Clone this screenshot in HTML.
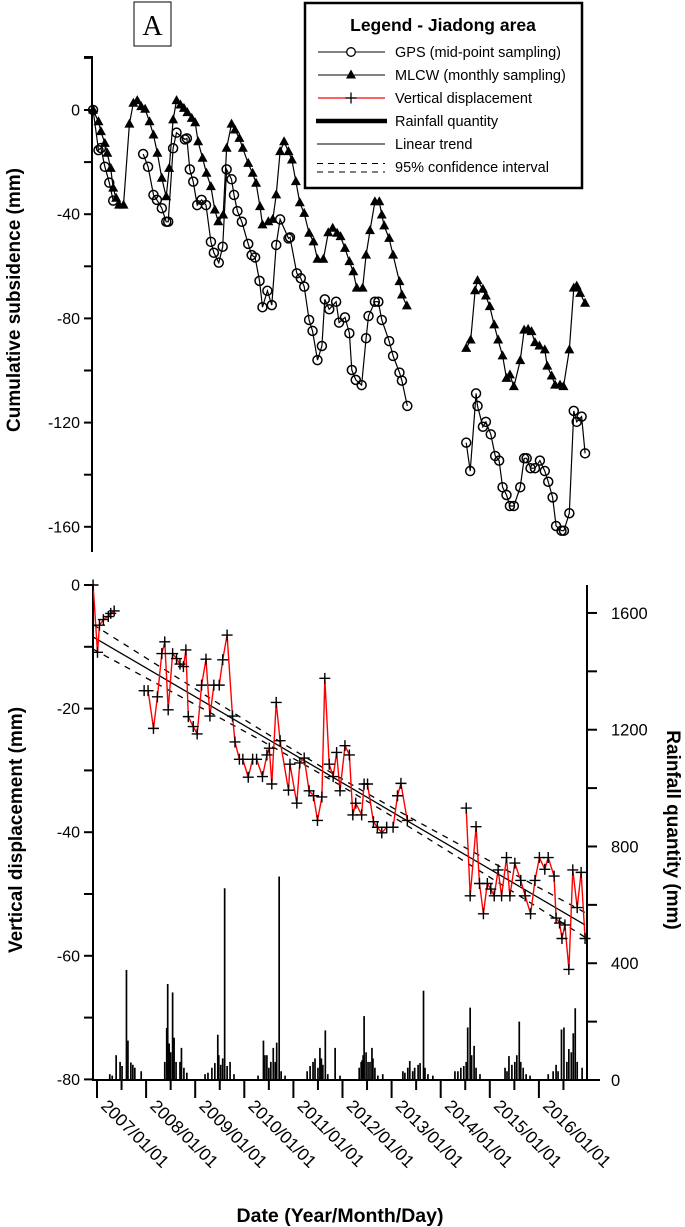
<!DOCTYPE html>
<html><head><meta charset="utf-8"><style>
html,body{margin:0;padding:0;background:#fff;}
svg{display:block;font-family:"Liberation Sans",sans-serif;}
</style></head><body>
<svg id="chart" width="685" height="1227" viewBox="0 0 685 1227" xmlns="http://www.w3.org/2000/svg">
<g>
<rect x="134" y="2" width="37" height="44" fill="none" stroke="#000" stroke-width="1"/>
<text x="152.5" y="35" font-family="Liberation Serif, serif" font-size="28" text-anchor="middle">A</text>
</g>
<g id="topChart"></g>
<g id="bottomChart"></g>
<g>
<rect x="305" y="3" width="277" height="185" fill="#fff" stroke="#000" stroke-width="2.5"/>
<text x="443" y="31" font-size="17.5" font-weight="bold" text-anchor="middle">Legend - Jiadong area</text>
<g><line x1="318" y1="52" x2="385" y2="52" stroke="#000" stroke-width="1"/><circle cx="351" cy="52" r="4.3" fill="#fff" stroke="#000" stroke-width="1.3"/><text x="395" y="57" font-size="14.5">GPS (mid-point sampling)</text></g>
<g><line x1="318" y1="75" x2="385" y2="75" stroke="#000" stroke-width="1"/><polygon points="351,69.5 356,78.5 346,78.5" fill="#000"/><text x="395" y="80" font-size="14.5">MLCW (monthly sampling)</text></g>
<g><line x1="318" y1="98" x2="385" y2="98" stroke="#f00" stroke-width="1.3"/><path d="M345.5 98H356.5M351 92.5V103.5" stroke="#000" stroke-width="1.3"/><text x="395" y="103" font-size="14.5">Vertical displacement</text></g>
<g><line x1="316" y1="121" x2="387" y2="121" stroke="#000" stroke-width="4.5"/><text x="395" y="126" font-size="14.5">Rainfall quantity</text></g>
<g><line x1="317" y1="144" x2="385" y2="144" stroke="#000" stroke-width="1"/><text x="395" y="149" font-size="14.5">Linear trend</text></g>
<g><line x1="317" y1="163.5" x2="385" y2="163.5" stroke="#000" stroke-width="1" stroke-dasharray="6,5"/><line x1="317" y1="172" x2="385" y2="172" stroke="#000" stroke-width="1" stroke-dasharray="6,5"/><text x="395" y="172" font-size="14.5">95% confidence interval</text></g>
</g>
</svg>
<script>
const gpsDates=[2006.92,2007.03,2007.08,2007.16,2007.25,2007.33,2007.94,2008.04,2008.15,2008.22,2008.32,2008.41,2008.45,2008.55,2008.62,2008.79,2008.83,2008.89,2008.96,2009.04,2009.13,2009.22,2009.32,2009.38,2009.48,2009.56,2009.64,2009.74,2009.79,2009.86,2009.95,2010.08,2010.15,2010.22,2010.31,2010.37,2010.47,2010.56,2010.65,2010.73,2010.90,2010.93,2011.07,2011.15,2011.22,2011.32,2011.39,2011.49,2011.58,2011.64,2011.73,2011.87,2011.93,2012.05,2012.14,2012.19,2012.27,2012.39,2012.48,2012.53,2012.66,2012.73,2012.80,2012.95,2013.03,2013.16,2013.21,2013.32,2014.52,2014.60,2014.72,2014.75,2014.86,2014.92,2015.02,2015.11,2015.19,2015.26,2015.34,2015.41,2015.49,2015.62,2015.70,2015.75,2015.83,2015.92,2016.02,2016.12,2016.19,2016.28,2016.35,2016.46,2016.51,2016.62,2016.71,2016.77,2016.87,2016.94];
const gpsValues=[0,-15.4,-14.6,-21.8,-27.9,-34.8,-16.9,-21.8,-32.6,-34.5,-37.7,-42.9,-42.9,-14.7,-8.7,-11.3,-10.9,-22.8,-27.5,-36.5,-34.5,-36.5,-50.6,-54.8,-58.6,-52.5,-22.8,-26.6,-32.6,-38.8,-42.9,-51.4,-55.7,-56.6,-65.6,-75.7,-69.4,-74.9,-51.8,-42,-49.3,-48.9,-62.7,-64.6,-67.8,-80.6,-84.8,-96,-90.6,-72.7,-76.5,-73.6,-81.6,-79.6,-85.7,-99.8,-103.6,-105.6,-87.6,-79.1,-73.6,-73.6,-80.6,-88.7,-94.4,-100.8,-103.9,-113.6,-127.7,-138.6,-108.8,-113.6,-121.6,-119.7,-124.5,-132.8,-134.6,-144.8,-147.8,-152,-152,-144.8,-133.7,-133.7,-137.5,-137.5,-134.6,-138.6,-142.7,-148.7,-159.7,-161.5,-161.5,-154.8,-115.5,-119.7,-117.7,-131.8];
const mlcwDates=[2006.92,2007.03,2007.08,2007.16,2007.21,2007.28,2007.33,2007.39,2007.45,2007.54,2007.66,2007.74,2007.82,2007.90,2007.98,2008.07,2008.15,2008.23,2008.32,2008.41,2008.47,2008.55,2008.62,2008.70,2008.77,2008.84,2008.93,2009.00,2009.06,2009.15,2009.23,2009.32,2009.40,2009.47,2009.57,2009.64,2009.74,2009.81,2009.90,2009.97,2010.08,2010.17,2010.24,2010.32,2010.37,2010.49,2010.58,2010.65,2010.73,2010.81,2010.90,2010.97,2011.05,2011.13,2011.22,2011.32,2011.41,2011.49,2011.61,2011.71,2011.80,2011.89,2011.96,2012.05,2012.14,2012.22,2012.29,2012.41,2012.48,2012.56,2012.66,2012.75,2012.80,2012.85,2012.95,2013.03,2013.16,2013.21,2013.31,2014.52,2014.61,2014.70,2014.75,2014.86,2014.92,2015.00,2015.09,2015.17,2015.26,2015.34,2015.41,2015.49,2015.62,2015.70,2015.78,2015.85,2015.92,2016.01,2016.12,2016.17,2016.26,2016.33,2016.43,2016.50,2016.62,2016.71,2016.77,2016.84,2016.94];
const mlcwValues=[0,-4.5,-8.3,-12.8,-16.6,-22.4,-30,-33.9,-36.5,-36.5,-5.4,2.6,3.6,1.3,0.3,-4.5,-9.6,-16.6,-26.2,-33.3,-22.4,-3.8,3.6,1.9,0.6,-1,-3.2,-4.9,-12.2,-18.5,-24.3,-29.4,-38.4,-42.9,-40.3,-14.7,-5.4,-7.7,-10.9,-14.7,-20.5,-24.3,-28.1,-37.1,-44.1,-42.9,-42,-32.6,-16,-12.2,-16,-19.2,-27.5,-35.6,-39.7,-47.3,-50.6,-57.3,-57.3,-47.1,-45.4,-47.3,-48.6,-53.1,-58.2,-62.1,-68.4,-68.4,-55.7,-46.3,-35.2,-35.2,-40.3,-44.5,-49.3,-55.7,-65.9,-71,-75.2,-91.5,-88.3,-69.4,-65.5,-68.8,-71.4,-75.5,-82.5,-88.3,-94.4,-103,-101.7,-106.2,-96.2,-84.5,-84.2,-85.1,-89.3,-90.6,-92.1,-98.3,-102.1,-105.6,-105.6,-106.2,-92.1,-68.4,-67.6,-70.4,-74.2];
const vdDates=[2006.92,2007.01,2007.05,2007.13,2007.23,2007.28,2007.35,2007.96,2008.04,2008.15,2008.23,2008.32,2008.38,2008.45,2008.54,2008.62,2008.69,2008.76,2008.81,2008.86,2008.96,2009.04,2009.13,2009.22,2009.30,2009.38,2009.49,2009.56,2009.65,2009.76,2009.81,2009.90,2009.97,2010.08,2010.17,2010.25,2010.37,2010.46,2010.51,2010.56,2010.65,2010.73,2010.90,2010.93,2011.07,2011.13,2011.22,2011.32,2011.41,2011.49,2011.58,2011.64,2011.73,2011.81,2011.88,2011.95,2012.05,2012.14,2012.21,2012.27,2012.39,2012.44,2012.51,2012.63,2012.71,2012.80,2012.90,2013.03,2013.12,2013.19,2013.32,2014.52,2014.60,2014.72,2014.79,2014.87,2014.95,2015.02,2015.09,2015.17,2015.24,2015.34,2015.41,2015.51,2015.63,2015.72,2015.83,2015.92,2016.01,2016.12,2016.19,2016.31,2016.35,2016.42,2016.47,2016.53,2016.61,2016.69,2016.78,2016.86,2016.94];
const vdValues=[0,-10.9,-6.5,-5.6,-5.1,-4.6,-4.2,-17.1,-17.1,-23.2,-18.1,-11.1,-9.2,-20.2,-11.1,-11.9,-12.8,-13.2,-10.5,-21.3,-22.9,-24.1,-16.2,-12,-21.2,-16.2,-16.2,-12.1,-8.1,-21.2,-25.4,-28.2,-28.2,-31.1,-28.2,-28.2,-31,-27.5,-26.4,-32.2,-19,-25.2,-33.2,-29,-35.3,-28.8,-28,-33.3,-34.1,-38.1,-34.3,-15.1,-29,-31,-27.1,-33.3,-26,-27.5,-37.2,-35.3,-37.2,-32.2,-32.2,-38.3,-39.2,-40.1,-39.2,-39.2,-34.1,-32.1,-38.1,-36.1,-50.3,-39.1,-48.3,-53.2,-48.3,-49.2,-50.3,-46.1,-50.3,-44.1,-50.3,-45,-47.8,-50.3,-53.2,-47.8,-44.1,-46,-44.1,-47.1,-53.9,-54.7,-57.2,-55,-62.2,-46.1,-52.2,-46.5,-57.2];
const trendDates=[2006.92,2016.94];
const trendValues=[-8.4,-55];
const ciHalfWidth=[0.6,0.38];
const rainDates=[2007.26,2007.31,2007.39,2007.47,2007.51,2007.60,2007.63,2007.69,2007.73,2007.77,2007.90,
2008.38,2008.42,2008.44,2008.47,2008.50,2008.54,2008.57,2008.61,2008.69,2008.72,2008.77,2008.83,
2009.20,2009.26,2009.34,2009.40,2009.46,2009.48,2009.52,2009.56,2009.60,2009.65,2009.71,2009.79,
2010.28,2010.39,2010.42,2010.46,2010.50,2010.54,2010.59,2010.63,2010.66,2010.71,2010.75,2010.83,
2011.28,2011.34,2011.40,2011.44,2011.50,2011.54,2011.57,2011.60,2011.65,2011.70,2011.85,2011.95,
2012.34,2012.38,2012.40,2012.42,2012.44,2012.48,2012.52,2012.56,2012.60,2012.62,2012.66,2012.72,2012.82,
2013.23,2013.27,2013.33,2013.37,2013.43,2013.47,2013.54,2013.58,2013.65,2013.68,2013.74,2013.84,
2014.29,2014.35,2014.41,2014.47,2014.52,2014.55,2014.60,2014.63,2014.68,2014.72,2014.80,
2015.31,2015.35,2015.39,2015.45,2015.51,2015.55,2015.60,2015.63,2015.68,2015.74,2015.82,
2016.19,2016.29,2016.35,2016.39,2016.46,2016.51,2016.57,2016.61,2016.66,2016.70,2016.74,2016.78,2016.88];
const rainValues=[20,15,85,62,48,377,135,60,52,42,30,
62,178,329,125,95,300,145,62,62,110,42,25,
20,25,42,58,155,85,52,74,657,48,62,20,
15,135,85,85,42,62,110,62,128,697,30,15,
30,48,62,74,42,110,74,52,170,20,110,15,
42,62,68,85,219,95,62,62,110,74,42,15,20,
30,25,42,65,30,42,52,58,306,42,20,15,
30,30,42,48,62,180,248,85,117,42,20,
42,30,82,52,62,85,200,62,42,20,15,
20,30,52,30,173,180,62,106,95,160,246,62,42];
const yearTicks=[2007,2008,2009,2010,2011,2012,2013,2014,2015,2016];
const topTicks=[0,-40,-80,-120,-160];
const leftTicks=[0,-20,-40,-60,-80];
const rightTicks=[0,400,800,1200,1600];

const NS="http://www.w3.org/2000/svg";
const xS=t=>97+(t-2007)*49.1;
const yT=v=>110-v*2.605;
const yB=v=>585-v*6.18;
const yR=r=>1080-r*0.2919;
function mk(tag,attrs,parent){const e=document.createElementNS(NS,tag);for(const k in attrs)e.setAttribute(k,attrs[k]);parent.appendChild(e);return e;}
function pathFor(d,v,ys){let s="";for(let i=0;i<d.length;i++){const brk=i===0||d[i]-d[i-1]>0.4;s+=(brk?"M":"L")+xS(d[i]).toFixed(1)+" "+ys(v[i]).toFixed(1);}return s;}
const topG=document.getElementById('topChart'),botG=document.getElementById('bottomChart');

let ax=mk('path',{d:'M84 57H92V552',fill:'none',stroke:'#000','stroke-width':2},topG);


for(let v=20;v>=-160;v-=20){mk('line',{x1:84,x2:92,y1:yT(v),y2:yT(v),stroke:'#000','stroke-width':2},topG);}
topTicks.forEach(v=>{const t=mk('text',{x:80,y:yT(v)+5.5,'font-size':16,'text-anchor':'end'},topG);t.textContent=v;

});
let tt=mk('text',{x:0,y:0,'font-size':19,'font-weight':'bold','text-anchor':'middle',transform:'translate(20,300) rotate(-90)'},topG);
tt.textContent='Cumulative subsidence (mm)';



let gl=mk('path',{d:pathFor(gpsDates,gpsValues,yT),fill:'none',stroke:'#000','stroke-width':1.2},topG);


let ml=mk('path',{d:pathFor(mlcwDates,mlcwValues,yT),fill:'none',stroke:'#000','stroke-width':1.2},topG);


mlcwDates.forEach((d,i)=>{const x=xS(d),y=yT(mlcwValues[i]);const p=mk('polygon',{points:`${x},${y-5.5} ${x+5},${y+3.5} ${x-5},${y+3.5}`,fill:'#000'},topG);

});
gpsDates.forEach((d,i)=>{const c=mk('circle',{cx:xS(d),cy:yT(gpsValues[i]),r:4.5,fill:'none',stroke:'#000','stroke-width':1.5},topG);

});

let bl=mk('path',{d:'M93 585V1080H600',fill:'none',stroke:'#000','stroke-width':2},botG);


let ra=mk('line',{x1:587,x2:587,y1:585,y2:1080,stroke:'#000','stroke-width':2},botG);


for(let v=0;v>=-80;v-=10){mk('line',{x1:84,x2:93,y1:yB(v),y2:yB(v),stroke:'#000','stroke-width':2},botG);}
for(let r=0;r<=1600;r+=200){mk('line',{x1:587,x2:597,y1:yR(r),y2:yR(r),stroke:'#000','stroke-width':2},botG);}
leftTicks.forEach(v=>{const t=mk('text',{x:80,y:yB(v)+5.5,'font-size':16,'text-anchor':'end'},botG);t.textContent=v;

});
rightTicks.forEach(v=>{const t=mk('text',{x:611,y:yR(v)+6,'font-size':16.5},botG);t.textContent=v;

});
yearTicks.forEach(y=>{const x=xS(y);mk('line',{x1:x,x2:x,y1:1080,y2:1098,stroke:'#000','stroke-width':2},botG);
const xm=xS(y+0.5);mk('line',{x1:xm,x2:xm,y1:1080,y2:1090,stroke:'#000','stroke-width':2},botG);
const t=mk('text',{x:0,y:0,'font-size':17.5,transform:`translate(${x+3},${1107}) rotate(45)`},botG);t.textContent=y+'/01/01';

});
let lt=mk('text',{x:0,y:0,'font-size':19,'font-weight':'bold','text-anchor':'middle',transform:'translate(22,830) rotate(-90)'},botG);
lt.textContent='Vertical displacement (mm)';


let rt=mk('text',{x:0,y:0,'font-size':19,'font-weight':'bold','text-anchor':'middle',transform:'translate(667,830) rotate(90)'},botG);
rt.textContent='Rainfall quantity (mm)';


let xt=mk('text',{x:340,y:1222,'font-size':19.5,'font-weight':'bold','text-anchor':'middle'},botG);
xt.textContent='Date (Year/Month/Day)';



rainDates.forEach((d,i)=>{const x=xS(d);const b=mk('line',{x1:x,x2:x,y1:1080,y2:yR(rainValues[i]),stroke:'#000','stroke-width':1.7},botG);

});

const t0=trendDates[0],t1=trendDates[1],v0=trendValues[0],v1=trendValues[1],tm=(t0+t1)/2;
const tv=t=>v0+(v1-v0)*(t-t0)/(t1-t0);
const hw=t=>Math.sqrt(ciHalfWidth[0]**2+(ciHalfWidth[1]*(t-tm))**2);
let trd=mk('line',{x1:xS(t0),y1:yB(v0),x2:xS(t1),y2:yB(v1),stroke:'#000','stroke-width':1.3},botG);


[1,-1].forEach(s=>{let d="";for(let k=0;k<=40;k++){const t=t0+(t1-t0)*k/40;d+=(k?"L":"M")+xS(t).toFixed(1)+" "+yB(tv(t)+s*hw(t)).toFixed(1);}
const p=mk('path',{d:d,fill:'none',stroke:'#000','stroke-width':1.3,'stroke-dasharray':'6,6'},botG);

});

let vl=mk('path',{d:pathFor(vdDates,vdValues,yB),fill:'none',stroke:'#f00','stroke-width':1.4},botG);


vdDates.forEach((d,i)=>{const x=xS(d),y=yB(vdValues[i]);const p=mk('path',{d:`M${x-5.5} ${y}H${x+5.5}M${x} ${y-5.5}V${y+5.5}`,stroke:'#000','stroke-width':1.4},botG);

});
</script>
</body></html>
